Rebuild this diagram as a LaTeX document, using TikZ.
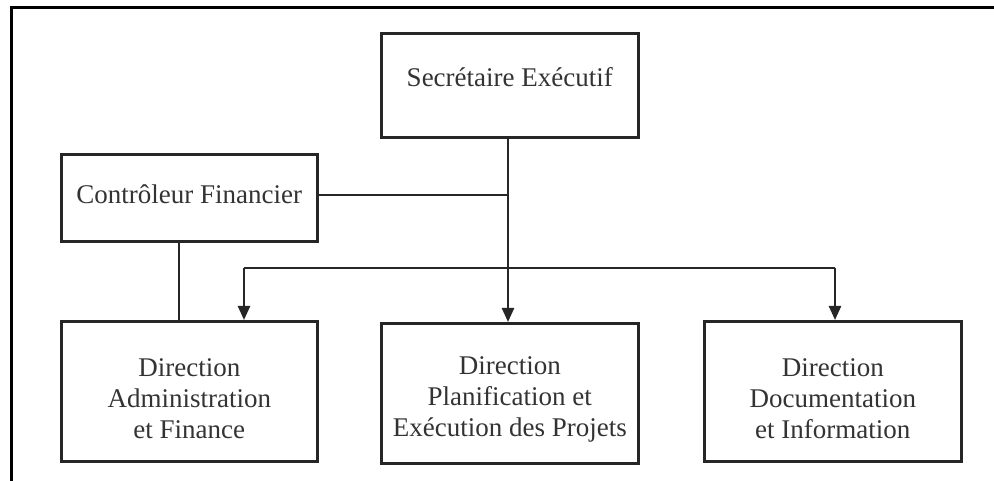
\documentclass[tikz,border=0pt]{standalone}
\usepackage{fontspec}
\setmainfont{Liberation Serif}
\usetikzlibrary{arrows.meta}
\begin{document}
\begin{tikzpicture}[x=1pt,y=-1pt,
  orgbox/.style={draw=black!85,line width=2.6pt,rectangle,anchor=north west,inner sep=0pt},
  lbl/.style={align=center,inner sep=0pt,font=\fontsize{27}{31}\selectfont,text=black!80},
  link/.style={draw=black!85,line width=2.4pt},
  arr/.style={link,-{Triangle[length=14pt,width=12pt]}}]
\useasboundingbox (0,0) rectangle (994,481);
% page frame (top and left edges)
\draw[line width=3pt] (994,8) -- (11,8) -- (11,481);
% boxes
\node[orgbox,minimum width=257pt,minimum height=104pt,
  label={[lbl,yshift=8pt]center:Secrétaire Exécutif}] (se) at (380,32) {};
\node[orgbox,minimum width=256pt,minimum height=87pt,
  label={[lbl,yshift=4pt]center:Contrôleur Financier}] (cf) at (60,153) {};
\node[orgbox,minimum width=256pt,minimum height=140pt,
  label={[lbl,yshift=-7pt]center:Direction\\Administration\\et Finance}] (daf) at (60,320) {};
\node[orgbox,minimum width=257pt,minimum height=140pt,
  label={[lbl,yshift=-6pt]center:Direction\\Planification et\\Exécution des Projets}] (dpe) at (380,322) {};
\node[orgbox,minimum width=257pt,minimum height=140pt,
  label={[lbl,yshift=-7pt]center:Direction\\Documentation\\et Information}] (ddi) at (703,320) {};
% connectors
\coordinate (jn) at (508,195);
\coordinate (busl) at (244,268);
\coordinate (busr) at (835,268);
\draw[arr] (se.south -| jn) -- (dpe.north -| jn);
\draw[link] (cf.east |- jn) -- (jn);
\draw[link] (cf.south -| 179,0) -- (daf.north -| 179,0);
\draw[link] (busl) -- (busr);
\draw[arr] (busl) -- (daf.north -| busl);
\draw[arr] (busr) -- (ddi.north -| busr);
\end{tikzpicture}
\end{document}
